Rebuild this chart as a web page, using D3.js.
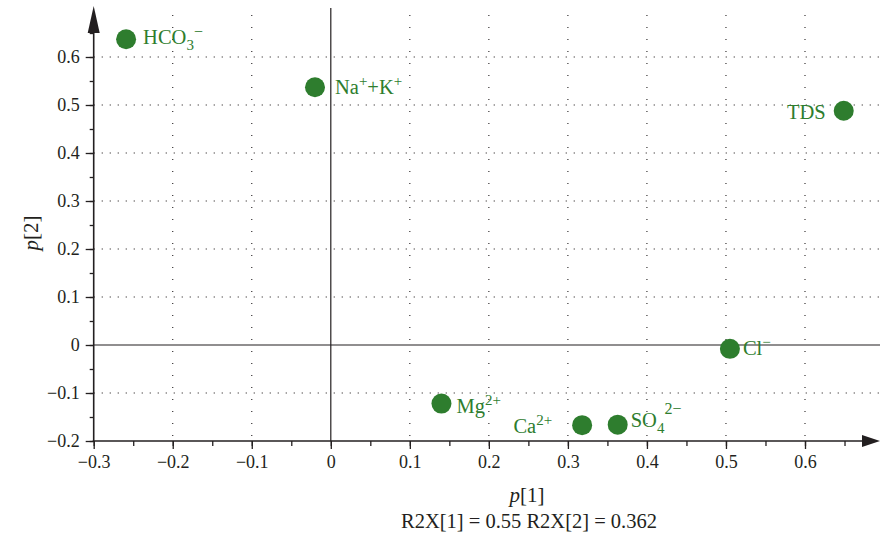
<!DOCTYPE html>
<html lang="en">
<head>
  <meta charset="UTF-8" />
  <title>Loading plot</title>
  <script src="https://cdn.jsdelivr.net/npm/d3@7"></script>
  <style>
    body { margin: 0; background: #fff; }
    svg text { font-family: "Liberation Serif", "DejaVu Serif", serif; }
  </style>
</head>
<body>
  <div id="chart"></div>
  <script>
    // variables (label parts: [text, "sub"/"sup"/""])
    var names = ["HCO3-", "Na+K", "TDS", "Cl-", "SO4", "Mg", "Ca"];
    var p1 = [-0.259, -0.020, 0.649, 0.505, 0.363, 0.140, 0.318];
    var p2 = [0.637, 0.537, 0.488, -0.008, -0.166, -0.122, -0.167];
    var labelParts = [
      [["HCO", ""], ["3", "sub"], ["\u2212", "supm"]],
      [["Na", ""], ["+", "sup"], ["+K", ""], ["+", "sup"]],
      [["TDS", ""]],
      [["Cl", ""], ["\u2212", "sup"]],
      [["SO", ""], ["4", "sub"], ["2\u2212", "sup4"]],
      [["Mg", ""], ["2+", "sup"]],
      [["Ca", ""], ["2+", "sup"]]
    ];
    var xTicks = [-0.3, -0.2, -0.1, 0, 0.1, 0.2, 0.3, 0.4, 0.5, 0.6];
    var yTicks = [-0.2, -0.1, 0, 0.1, 0.2, 0.3, 0.4, 0.5, 0.6];
    var footer = "R2X[1] = 0.55 R2X[2] = 0.362";

    // label placement next to each dot (pixels), anchor
    var labelPos = {
      "HCO3-": [17, 5, "start"], "Na+K": [20, 7, "start"], "TDS": [-18, 8, "end"],
      "Cl-": [13, 6, "start"], "SO4": [13, 2, "start"], "Mg": [15, 9, "start"],
      "Ca": [-30, 8, "end"]
    };

    var w = 880, h = 543;
    var ink = "#231f20", green = "#2e7d2e";
    var serif = "'Liberation Serif', 'DejaVu Serif', serif";

    var svg = d3.select("#chart").append("svg")
      .attr("width", w).attr("height", h)
      .attr("font-family", serif);

    var x = d3.scaleLinear().domain([-0.3, 0.6]).range([93.7, 805]);
    var y = d3.scaleLinear().domain([-0.2, 0.6]).range([441, 57]);
    var x0 = x(-0.3), yb = y(-0.2);

    // dotted grid
    svg.append("g").selectAll("line")
      .data(xTicks.filter(function(d) { return d != 0 && d != -0.3; }))
      .enter().append("line")
      .attr("x1", function(d) { return x(d); }).attr("x2", function(d) { return x(d); })
      .attr("y1", 15).attr("y2", yb)
      .attr("stroke", ink).attr("stroke-width", 1.1)
      .attr("stroke-dasharray", "1.1,10.9");
    svg.append("g").selectAll("line")
      .data(yTicks.filter(function(d) { return d != 0 && d != -0.2; }))
      .enter().append("line")
      .attr("x1", x0).attr("x2", w)
      .attr("y1", function(d) { return y(d); }).attr("y2", function(d) { return y(d); })
      .attr("stroke", ink).attr("stroke-width", 1.1)
      .attr("stroke-dasharray", "1.1,6.9");

    // zero lines
    svg.append("line").attr("x1", x(0)).attr("x2", x(0)).attr("y1", 8).attr("y2", yb)
      .attr("stroke", ink).attr("stroke-width", 1.2);
    svg.append("line").attr("x1", x0).attr("x2", w).attr("y1", y(0)).attr("y2", y(0))
      .attr("stroke", ink).attr("stroke-width", 1.2);

    // axes
    var minorX = d3.range(-0.3, 0.651, 0.05);
    var minorY = d3.range(-0.2, 0.651, 0.05);
    var gx = svg.append("g").attr("transform", "translate(0," + yb + ")");
    gx.call(d3.axisBottom(x).tickValues(minorX).tickSize(5).tickFormat(""));
    gx.append("g").call(d3.axisBottom(x).tickValues(xTicks).tickSize(8).tickPadding(6)
      .tickFormat(d3.format("")));
    var gy = svg.append("g").attr("transform", "translate(" + x0 + ",0)");
    gy.call(d3.axisLeft(y).tickValues(minorY).tickSize(4).tickFormat(""));
    gy.append("g").call(d3.axisLeft(y).tickValues(yTicks).tickSize(8).tickPadding(6)
      .tickFormat(d3.format("")));
    svg.selectAll(".domain").remove();
    svg.selectAll("g").attr("font-family", serif);
    svg.selectAll(".tick line").attr("stroke", ink).attr("stroke-width", 1.3);
    svg.selectAll(".tick text").attr("fill", ink).attr("font-size", 18);

    // axis lines with arrows
    svg.append("line").attr("x1", x0).attr("x2", x0).attr("y1", 30).attr("y2", yb + 1)
      .attr("stroke", ink).attr("stroke-width", 1.6);
    svg.append("path").attr("d", "M" + x0 + ",6 L" + (x0 - 6) + ",33 L" + (x0 + 6) + ",33 Z")
      .attr("fill", ink);
    svg.append("line").attr("x1", x0 - 1).attr("x2", 864).attr("y1", yb).attr("y2", yb)
      .attr("stroke", ink).attr("stroke-width", 1.6);
    svg.append("path").attr("d", "M880," + yb + " L862," + (yb - 6) + " L862," + (yb + 6) + " Z")
      .attr("fill", ink);

    // axis titles
    var t1 = svg.append("text").attr("x", 527).attr("y", 502).attr("text-anchor", "middle")
      .attr("font-size", 21).attr("fill", ink);
    t1.append("tspan").attr("font-style", "italic").text("p");
    t1.append("tspan").text("[1]");
    var t2 = svg.append("text").attr("transform", "translate(38,233) rotate(-90)")
      .attr("text-anchor", "middle").attr("font-size", 21).attr("fill", ink);
    t2.append("tspan").attr("font-style", "italic").text("p");
    t2.append("tspan").text("[2]");
    svg.append("text").attr("x", 529).attr("y", 528).attr("text-anchor", "middle")
      .attr("font-size", 20.5).attr("fill", ink).text(footer);

    // points
    var pts = names.map(function(n, i) {
      return { name: n, p1: p1[i], p2: p2[i], parts: labelParts[i], pos: labelPos[n] };
    });
    svg.append("g").selectAll("circle").data(pts).enter().append("circle")
      .attr("cx", function(d) { return x(d.p1); })
      .attr("cy", function(d) { return y(d.p2); })
      .attr("r", 10).attr("fill", green);

    var labels = svg.append("g").selectAll("text").data(pts).enter().append("text")
      .attr("x", function(d) { return x(d.p1) + d.pos[0]; })
      .attr("y", function(d) { return y(d.p2) + d.pos[1]; })
      .attr("text-anchor", function(d) { return d.pos[2]; })
      .attr("font-size", 20.5).attr("fill", green);
    labels.each(function(d) {
      var t = d3.select(this);
      var shift = 0;
      d.parts.forEach(function(p) {
        var s = t.append("tspan").text(p[0]);
        var target = 0;
        if (p[1] == "sub") { target = 6; s.attr("font-size", 15); }
        if (p[1] == "sup") { target = -8; s.attr("font-size", 15); }
        if (p[1] == "supm") { target = -7; s.attr("font-size", 16); }
        if (p[1] == "sup4") { target = -13; s.attr("font-size", 16); }
        if (target != shift) s.attr("dy", target - shift);
        shift = target;
      });
    });
  </script>
</body>
</html>
